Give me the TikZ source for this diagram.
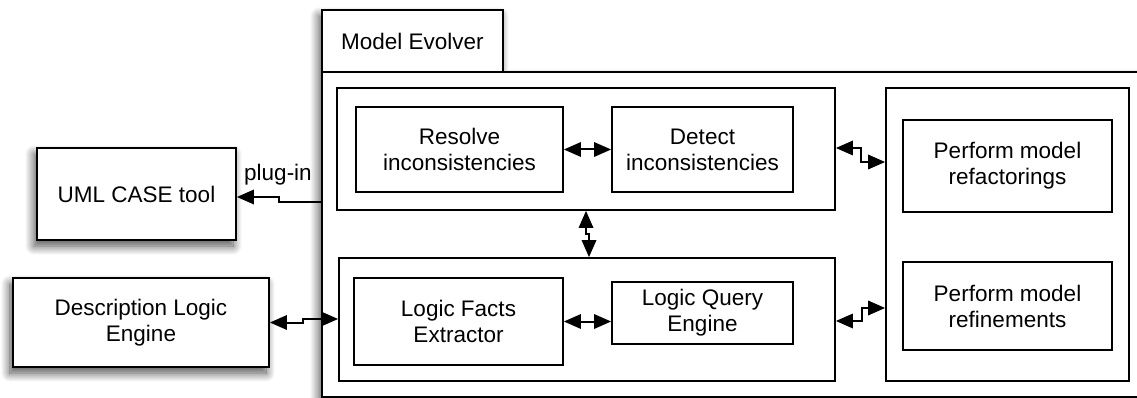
\documentclass[tikz,border=0pt]{standalone}
\usepackage{fontspec}
\setmainfont{Liberation Sans}
\usetikzlibrary{shadows.blur}
\tikzset{pics/ahead/.style={code={\fill[black] (0,0) -- (17,7.5) -- (17,-7.5) -- cycle;}}}
\begin{document}
\begin{tikzpicture}[x=1pt,y=1pt,
  box/.style={draw, line width=1.9pt, inner sep=0pt, align=center, font=\fontsize{22.5}{26}\selectfont},
  shad/.style={blur shadow={shadow xshift=-3pt, shadow yshift=-6pt, shadow blur radius=9pt, shadow blur steps=14, shadow opacity=70}},
  conn/.style={line width=2pt, line join=miter},
  darr/.style={conn, shorten <=9pt, shorten >=9pt},
  sarr/.style={conn, shorten >=9pt},
  lbl/.style={font=\fontsize{22.5}{26}\selectfont, inner sep=0pt}]
\useasboundingbox (0,0) rectangle (1137,-398);
% shadow of tab + main frame
\fill[white, shad] (322,-10) -- (503,-10) -- (503,-72) -- (1160,-72) -- (1160,-397) -- (322,-397) -- cycle;
\node[box, minimum width=181pt, minimum height=62pt] (tab) at (412.5,-41) {Model Evolver};
\node[box, minimum width=838pt, minimum height=325pt] (main) at (741,-234.5) {};
% external tools
\node[box, fill=white, shad, minimum width=199pt, minimum height=92pt] (uml) at (136.5,-194) {UML CASE tool};
\node[box, fill=white, shad, minimum width=256pt, minimum height=89pt] (dle) at (141,-322.5) {Description Logic\\Engine};
% groups
\node[box, minimum width=498pt, minimum height=122pt] (upper) at (586,-149) {};
\node[box, minimum width=496pt, minimum height=123pt] (lower) at (587,-319.5) {};
\node[box, minimum width=243pt, minimum height=293pt] (right) at (1007.5,-234.5) {};
% inner boxes
\node[box, minimum width=207pt, minimum height=85pt] (resolve) at (459.5,-149.5) {Resolve\\inconsistencies};
\node[box, minimum width=181pt, minimum height=85pt] (detect) at (702.5,-149.5) {Detect\\inconsistencies};
\node[box, minimum width=209pt, minimum height=87pt] (facts) at (458.5,-321.5) {Logic Facts\\Extractor};
\node[box, minimum width=181pt, minimum height=62pt] (query) at (702.5,-313) {Logic Query\\Engine};
\node[box, minimum width=209pt, minimum height=92pt] (refact) at (1007.5,-166) {Perform model\\refactorings};
\node[box, minimum width=209pt, minimum height=88pt] (refine) at (1007.5,-306) {Perform model\\refinements};
% connector end points
\coordinate (rdL) at (resolve.east);
\coordinate (rdR) at (detect.west);
\coordinate (fqL) at (facts.east);
\coordinate (fqR) at (facts.east -| query.west);
\coordinate (ulT) at (upper.south);
\coordinate (ulB) at ([xshift=2pt]lower.north);
\coordinate (urL) at (upper.east |- 0,-148);
\coordinate (urR) at (right.west |- 0,-162);
\coordinate (lrL) at (lower.east |- 0,-321);
\coordinate (lrR) at (right.west |- 0,-308);
\coordinate (dlL) at (dle.east);
\coordinate (dlR) at (lower.west |- 0,-319);
\coordinate (puR) at (main.west |- 0,-202);
\coordinate (puL) at (uml.east |- 0,-197);
% connectors
\draw[darr] (rdL) -- (rdR);
\draw[darr] (fqL) -- (fqR);
\draw[darr] (ulT) -- ++(0,-23) -| (ulB);
\draw[darr] (urL) -- (861,-148) -- (861,-162) -- (urR);
\draw[darr] (lrL) -- (862,-321) -- (862,-308) -- (lrR);
\draw[darr] (dlL) -- (303,-322.5) -- (303,-319) -- (dlR);
\draw[sarr] (puR) -- (279,-202) -- (279,-197) -- (puL);
% arrowheads
\path (rdL) pic {ahead};
\path (rdR) pic[rotate=180] {ahead};
\path (fqL) pic {ahead};
\path (fqR) pic[rotate=180] {ahead};
\path (ulT) pic[rotate=-90] {ahead};
\path (ulB) pic[rotate=90] {ahead};
\path (urL) pic {ahead};
\path (urR) pic[rotate=180] {ahead};
\path (lrL) pic {ahead};
\path (lrR) pic[rotate=180] {ahead};
\path (dlL) pic {ahead};
\path (dlR) pic[rotate=180] {ahead};
\path (puL) pic {ahead};
\node[lbl] (plug) at (278,-175) {plug-in};
\end{tikzpicture}
\end{document}
